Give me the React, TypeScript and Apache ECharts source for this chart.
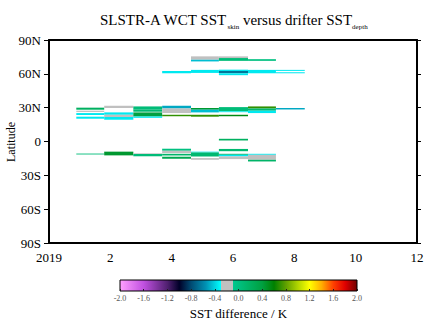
import React, { useEffect, useRef } from "react";
import * as echarts from "echarts";

// Column (time-bin) edges in months since start of 2019
const colEdges = [0.89, 1.80, 2.75, 3.69, 4.63, 5.54, 6.49, 7.40, 8.34];

// Cells: [column index, latitude top, latitude bottom, SST difference (K)]
const northCells: number[][] = [
  [4, 75.5, 72.5, -0.2],
  [4, 72.5, 71.0, -0.45],
  [5, 75.5, 74.0, -0.2],
  [5, 74.0, 71.5, 0.05],
  [6, 73.0, 71.5, 0.0],
  [3, 62.5, 60.5, -0.35],
  [4, 63.5, 60.8, -0.35],
  [5, 63.7, 62.5, -0.35],
  [5, 62.5, 60.5, -0.65],
  [5, 60.5, 58.8, -0.35],
  [6, 63.5, 60.5, -0.35],
  [7, 63.5, 62.6, -0.35],
  [7, 61.4, 60.5, -0.35],
];

const subtropicCells: number[][] = [
  [0, 30.0, 28.2, 0.2],
  [0, 27.3, 26.2, -0.2],
  [0, 25.2, 23.5, -0.35],
  [0, 22.0, 20.2, -0.35],
  [1, 31.7, 29.7, -0.2],
  [1, 25.8, 23.7, -0.35],
  [1, 23.7, 21.7, -0.2],
  [1, 21.7, 19.3, -0.35],
  [2, 31.1, 28.2, 0.05],
  [2, 28.2, 26.4, 0.1],
  [2, 25.8, 22.2, 0.4],
  [2, 22.2, 21.0, -0.35],
  [3, 31.7, 29.3, -0.5],
  [3, 29.3, 25.2, -0.2],
  [3, 23.7, 22.4, 0.7],
  [4, 29.7, 28.2, 0.45],
  [4, 28.2, 25.8, -0.45],
  [4, 23.7, 22.0, 0.7],
  [5, 30.5, 26.8, 0.05],
  [5, 26.8, 26.0, -0.35],
  [5, 23.7, 22.4, 0.55],
  [6, 31.1, 29.3, 0.7],
  [6, 29.3, 27.3, 0.1],
  [6, 27.3, 25.2, -0.35],
  [7, 29.7, 28.4, -0.5],
];

const southCells: number[][] = [
  [0, -10.7, -11.5, 0.05],
  [1, -9.0, -12.3, 0.45],
  [2, -10.5, -11.1, -0.2],
  [2, -11.1, -13.1, 0.05],
  [3, -6.4, -8.2, 0.0],
  [3, -8.2, -10.2, -0.2],
  [3, -10.9, -12.4, 0.15],
  [3, -13.5, -15.3, 0.3],
  [4, -9.0, -9.7, -0.35],
  [4, -9.7, -13.3, 0.1],
  [4, -14.7, -16.2, -0.2],
  [5, 2.4, 0.9, 0.2],
  [5, -6.6, -8.6, 0.1],
  [5, -10.9, -11.8, 0.15],
  [5, -11.8, -13.2, -0.35],
  [5, -13.2, -15.6, -0.2],
  [6, -10.9, -11.8, -0.35],
  [6, -11.8, -16.2, -0.2],
  [6, -16.2, -17.7, 0.15],
];

// Tick labels
const latTicks = [-90, -60, -30, 0, 30, 60, 90];
const monthTicks = [0, 2, 4, 6, 8, 10, 12];
const cbTicks = [-2.0, -1.6, -1.2, -0.8, -0.4, 0.0, 0.4, 0.8, 1.2, 1.6, 2.0];

// Colour scale stops: [value, colour]
const cmapValues = [-2.0, -1.6, -1.2, -1.0, -0.8, -0.55, -0.3, -0.3, -0.1, -0.1, 0.4, 0.6, 0.8, 1.0, 1.2, 1.4, 1.6, 1.8, 2.0];
const cmapColors = [
  "#ffa0ff", "#c050e0", "#502070", "#000028", "#004a72", "#0092b4", "#00ffff",
  "#c0c0c0", "#c0c0c0", "#00c890", "#00a040", "#008000", "#60a000", "#b0d400",
  "#ffff00", "#ffb000", "#ff4000", "#e00000", "#700000",
];

const FONT = "Liberation Serif";

function hexToRgb(h: string) {
  const n = parseInt(h.slice(1), 16);
  return [(n >> 16) & 255, (n >> 8) & 255, n & 255];
}

function colorFor(v: number) {
  if (v <= cmapValues[0]) return cmapColors[0];
  for (let i = 0; i < cmapValues.length - 1; i++) {
    const a = cmapValues[i], b = cmapValues[i + 1];
    if (v >= a && v < b) {
      const t = (v - a) / (b - a);
      const ca = hexToRgb(cmapColors[i]), cb = hexToRgb(cmapColors[i + 1]);
      const c = ca.map((x, k) => Math.round(x + (cb[k] - x) * t));
      return `rgb(${c[0]},${c[1]},${c[2]})`;
    }
  }
  return cmapColors[cmapColors.length - 1];
}

export default function App() {
  const ref = useRef<HTMLDivElement>(null);
  useEffect(() => {
    if (!ref.current) return;
    document.body.style.margin = "0";
    const chart = echarts.init(ref.current, undefined, { renderer: "svg" });
    const allCells = [...northCells, ...subtropicCells, ...southCells];
    const data = allCells.map(([c, top, bot, v]) => [colEdges[c], colEdges[c + 1], top, bot, v]);

    const cbLeft = 120, cbTop = 280, cbWidth = 237, cbHeight = 11;
    const stops = cmapValues.map((v, i) => ({ offset: (v + 2) / 4, color: cmapColors[i] }));

    const option: any = {
      animation: false,
      backgroundColor: "#fff",
      textStyle: { fontFamily: FONT },
      title: {
        text: "{a|SLSTR-A WCT SST}{s|skin}{a| versus drifter SST}{s|depth}",
        left: 100,
        top: 10,
        padding: 0,
        textStyle: {
          fontWeight: "normal",
          fontFamily: FONT,
          rich: {
            a: { fontFamily: FONT, fontSize: 15, fontWeight: "normal", color: "#000", lineHeight: 20 },
            s: { fontFamily: FONT, fontSize: 7, fontWeight: "normal", color: "#000", verticalAlign: "bottom" },
          },
        },
      },
      grid: [
        { left: 49, right: 21, top: 40, bottom: 82, show: false, outerBoundsMode: "none", containLabel: false },
        { left: cbLeft, top: cbTop, width: cbWidth, height: cbHeight, show: false, outerBoundsMode: "none", containLabel: false },
      ],
      xAxis: [
        {
          type: "value", gridIndex: 0, min: 0, max: 12, interval: 2,
          axisLine: { show: true, onZero: false, lineStyle: { color: "#000", width: 2 } },
          axisTick: { show: false },
          splitLine: { show: false },
          axisLabel: {
            fontFamily: FONT, fontSize: 13, color: "#000", margin: 8,
            formatter: (v: number) => (v === 0 ? "2019" : String(v)),
            customValues: monthTicks,
          },
        },
        {
          type: "value", gridIndex: 0, min: 0, max: 12, position: "top",
          axisLine: { show: true, onZero: false, lineStyle: { color: "#000", width: 2 } },
          axisTick: { show: false }, axisLabel: { show: false }, splitLine: { show: false },
        },
        {
          type: "value", gridIndex: 1, min: -2, max: 2, interval: 0.4, z: 10,
          axisLine: { show: false, onZero: false },
          axisTick: { show: true, inside: true, length: 2, lineStyle: { color: "#222", width: 1 } },
          splitLine: { show: false },
          axisLabel: {
            fontFamily: FONT, fontSize: 8, color: "#555", margin: 3,
            formatter: (v: number) => v.toFixed(1),
            customValues: cbTicks,
          },
        },
      ],
      yAxis: [
        {
          type: "value", gridIndex: 0, min: -90, max: 90, interval: 30,
          axisLine: { show: true, onZero: false, lineStyle: { color: "#000", width: 2 } },
          axisTick: { show: true, length: 5, lineStyle: { color: "#000", width: 1 } },
          splitLine: { show: false },
          axisLabel: {
            fontFamily: FONT, fontSize: 13, color: "#000", margin: 8,
            customValues: latTicks,
            formatter: (v: number) => (v > 0 ? `${v}N` : v < 0 ? `${-v}S` : "0"),
          },
        },
        {
          type: "value", gridIndex: 0, min: -90, max: 90, interval: 30, position: "right",
          axisLine: { show: true, onZero: false, lineStyle: { color: "#000", width: 2 } },
          axisTick: { show: true, length: 4, lineStyle: { color: "#000", width: 1 } },
          axisLabel: { show: false }, splitLine: { show: false },
        },
        { type: "value", gridIndex: 1, min: 0, max: 1, show: false },
      ],
      graphic: [
        {
          type: "rect", x: cbLeft, y: cbTop, z: 0,
          shape: { x: 0, y: 0, width: cbWidth, height: cbHeight },
          style: {
            fill: new echarts.graphic.LinearGradient(0, 0, 1, 0, stops),
            stroke: "#000", lineWidth: 1,
          },
        },
        {
          type: "text", x: cbLeft + cbWidth / 2, y: 313, z: 0,
          style: {
            text: "SST difference / K", fontFamily: FONT, fontSize: 13, fill: "#000",
            textAlign: "center", textVerticalAlign: "middle",
          },
        },
        {
          type: "text", x: 11, y: 142, rotation: Math.PI / 2, z: 0,
          style: {
            text: "Latitude", fontFamily: FONT, fontSize: 12, fill: "#000",
            textAlign: "center", textVerticalAlign: "middle",
          },
        },
      ],
      series: [
        {
          type: "custom",
          xAxisIndex: 0,
          yAxisIndex: 0,
          encode: { x: [0, 1], y: [2, 3] },
          data,
          renderItem: (params: any, api: any) => {
            const p0 = api.coord([api.value(0), api.value(2)]);
            const p1 = api.coord([api.value(1), api.value(3)]);
            return {
              type: "rect",
              shape: { x: p0[0], y: p0[1], width: p1[0] - p0[0], height: p1[1] - p0[1] },
              style: { fill: colorFor(api.value(4)) },
            };
          },
        },
      ],
    };
    chart.setOption(option);
    return () => chart.dispose();
  }, []);
  return <div ref={ref} style={{ width: 438, height: 325 }} />;
}
